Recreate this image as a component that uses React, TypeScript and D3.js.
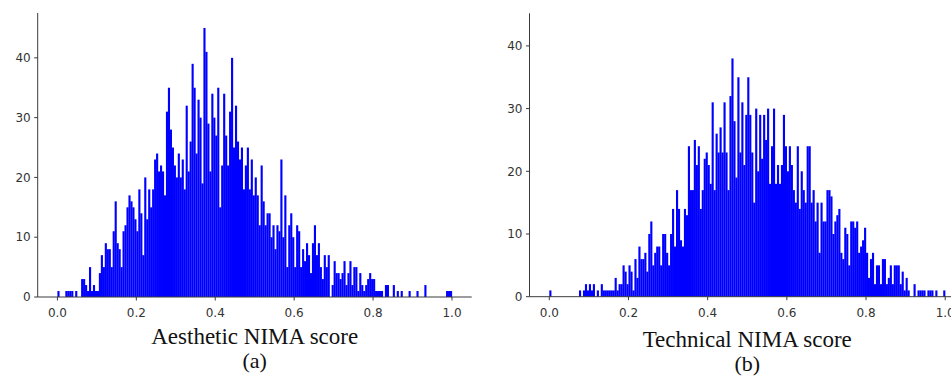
import * as d3 from 'd3';

// histogram bin width on the score axis
const binWidth = 0.005;

// counts per bin, 0.000 .. 0.995
const aestheticCounts = [
  1, 0, 0, 0, 1, 1, 1, 1, 0, 1,
  0, 0, 3, 3, 2, 1, 5, 1, 2, 1,
  1, 4, 7, 5, 9, 8, 8, 5, 11, 16,
  9, 8, 5, 11, 12, 15, 17, 16, 15, 13,
  11, 18, 14, 7, 20, 13, 18, 15, 18, 23,
  24, 21, 22, 21, 17, 31, 35, 28, 25, 22,
  20, 24, 20, 23, 18, 32, 21, 26, 39, 35,
  24, 33, 30, 19, 45, 41, 29, 21, 34, 30,
  27, 35, 15, 22, 34, 27, 22, 31, 40, 25,
  32, 26, 23, 25, 18, 22, 25, 18, 23, 17,
  20, 17, 12, 22, 16, 12, 14, 14, 10, 12,
  8, 12, 11, 23, 10, 17, 5, 12, 14, 10,
  5, 12, 11, 5, 8, 6, 9, 7, 4, 9,
  12, 7, 9, 5, 3, 7, 5, 7, 0, 2,
  6, 4, 4, 3, 4, 6, 2, 4, 6, 2,
  5, 5, 1, 4, 2, 1, 2, 3, 4, 3,
  3, 1, 1, 1, 1, 0, 2, 2, 0, 0,
  2, 0, 1, 0, 1, 0, 0, 0, 1, 0,
  0, 0, 1, 0, 0, 0, 2, 0, 0, 0,
  0, 0, 0, 0, 0, 0, 0, 1, 1, 1,
];

const technicalCounts = [
  1, 0, 0, 0, 0, 0, 0, 0, 0, 0,
  0, 0, 0, 0, 0, 1, 0, 1, 2, 1,
  2, 1, 2, 0, 1, 0, 2, 1, 1, 1,
  1, 1, 1, 3, 1, 2, 2, 5, 4, 2,
  5, 4, 1, 6, 3, 8, 6, 6, 7, 4,
  10, 12, 5, 7, 8, 8, 5, 10, 10, 7,
  5, 10, 14, 8, 17, 14, 9, 8, 14, 13,
  24, 17, 17, 25, 21, 24, 14, 17, 22, 23,
  21, 18, 31, 17, 26, 23, 27, 23, 31, 23,
  17, 32, 38, 28, 19, 35, 23, 31, 21, 29,
  35, 29, 23, 15, 30, 20, 29, 22, 29, 25,
  30, 18, 24, 30, 18, 21, 18, 21, 29, 24,
  20, 24, 21, 17, 15, 24, 14, 20, 17, 15,
  24, 24, 15, 17, 12, 15, 7, 15, 12, 12,
  17, 17, 16, 10, 12, 13, 14, 7, 6, 11,
  10, 5, 12, 12, 11, 12, 7, 8, 9, 11,
  7, 3, 6, 7, 2, 5, 5, 2, 6, 6,
  2, 3, 5, 2, 5, 5, 5, 2, 4, 1,
  3, 1, 0, 0, 2, 0, 1, 1, 1, 1,
  0, 1, 1, 1, 0, 1, 0, 0, 0, 1,
];

const xTicks = [0, 0.2, 0.4, 0.6, 0.8, 1.0];
const yTicks = [0, 10, 20, 30, 40];

const panels = [
  {
    counts: aestheticCounts,
    title: 'Aesthetic NIMA score',
    tag: '(a)',
    xRange: [37.7, 471.7],
    yTop: 47.5,
    yRange: [297, 13],
    titleY: 344,
    tagY: 368,
  },
  {
    counts: technicalCounts,
    title: 'Technical NIMA score',
    tag: '(b)',
    xRange: [529.5, 965],
    yTop: 45.2,
    yRange: [296.7, 13.3],
    titleY: 347,
    tagY: 371,
  },
];

const axisColor = '#3a3a3a';
const tickFont = '"DejaVu Sans", sans-serif';
const labelFont = '"Liberation Serif", "Times New Roman", serif';

function Histogram({ p }: { p: (typeof panels)[number] }) {
  const x = d3.scaleLinear().domain([-0.05, 1.05]).range(p.xRange);
  const y = d3.scaleLinear().domain([0, p.yTop]).range(p.yRange);
  const [x0, x1] = p.xRange;
  const y0 = p.yRange[0];
  const cx = (x(0) + x(1)) / 2;

  return (
    <g>
      {/* bars: slight overlap so the body reads as one solid mass */}
      {p.counts.map((c, i) =>
        c > 0 ? (
          <rect
            key={i}
            x={x(i * binWidth)}
            width={x((i + 1) * binWidth) - x(i * binWidth) + 0.15}
            y={y(c)}
            height={y0 - y(c)}
            fill="#0000ff"
          />
        ) : null
      )}

      {/* spines */}
      <line x1={x0} x2={x0} y1={p.yRange[1]} y2={y0} stroke={axisColor} strokeWidth={1} />
      <line x1={x0} x2={x1} y1={y0} y2={y0} stroke={axisColor} strokeWidth={1} />

      {/* y ticks */}
      {yTicks.map(t => (
        <g key={t} transform={`translate(${x0},${y(t)})`}>
          <line x1={-3.5} x2={0} stroke={axisColor} />
          <text x={-7} dy="0.35em" textAnchor="end" fontSize={12} fontFamily={tickFont} fill="#333">
            {t}
          </text>
        </g>
      ))}

      {/* x ticks */}
      {xTicks.map(t => (
        <g key={t} transform={`translate(${x(t)},${y0})`}>
          <line y1={0} y2={3.5} stroke={axisColor} />
          <text y={20} textAnchor="middle" fontSize={12} fontFamily={tickFont} fill="#333">
            {t.toFixed(1)}
          </text>
        </g>
      ))}

      <text x={cx} y={p.titleY} textAnchor="middle" fontSize={23} fontFamily={labelFont} fill="#111">
        {p.title}
      </text>
      <text x={cx} y={p.tagY} textAnchor="middle" fontSize={22} fontFamily={labelFont} fill="#111">
        {p.tag}
      </text>
    </g>
  );
}

export default function App() {
  return (
    <svg
      width={951}
      height={377}
      style={{ position: 'absolute', left: 0, top: 0, background: '#fff' }}
    >
      {panels.map(p => (
        <Histogram key={p.tag} p={p} />
      ))}
    </svg>
  );
}
